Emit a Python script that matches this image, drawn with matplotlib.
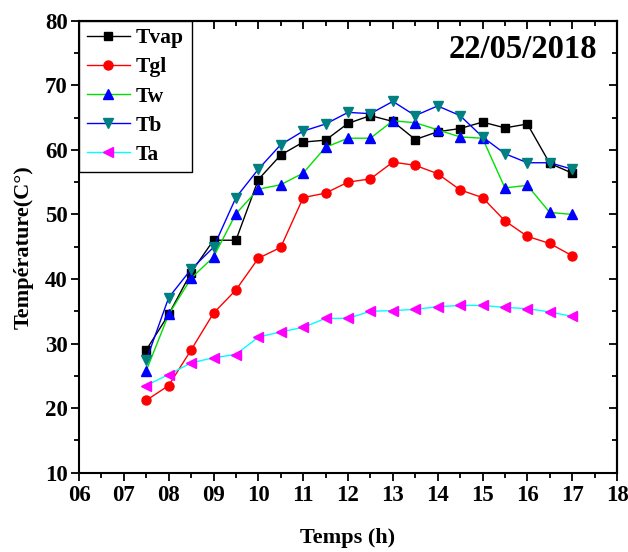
import matplotlib
matplotlib.use("Agg")
import matplotlib.pyplot as plt
from matplotlib.ticker import MultipleLocator, FuncFormatter

plt.rcParams['font.family'] = ['Liberation Serif', 'DejaVu Serif']
plt.rcParams['font.weight'] = 'bold'

# hours of measurement
hours = [7.5, 8, 8.5, 9, 9.5, 10, 10.5, 11, 11.5, 12, 12.5, 13, 13.5, 14, 14.5, 15, 15.5, 16, 16.5, 17]

# temperatures (C)
t_vap = [29.0, 34.5, 41.0, 46.0, 46.0, 55.4, 59.2, 61.2, 61.5, 64.1, 65.3, 64.4, 61.6, 62.8, 63.3, 64.3, 63.4, 64.0, 57.9, 56.4]
t_gl = [21.2, 23.5, 29.0, 34.7, 38.3, 43.2, 44.9, 52.6, 53.3, 55.0, 55.5, 58.1, 57.6, 56.3, 53.8, 52.6, 49.0, 46.6, 45.5, 43.6]
t_w = [25.8, 34.5, 40.1, 43.4, 50.1, 53.9, 54.6, 56.4, 60.4, 61.8, 61.8, 64.5, 64.2, 63.1, 62.0, 61.8, 54.1, 54.5, 50.3, 50.0]
t_b = [27.4, 37.1, 41.5, 44.9, 52.6, 57.0, 60.8, 62.9, 64.0, 65.8, 65.6, 67.5, 65.3, 66.8, 65.3, 62.0, 59.4, 58.0, 58.0, 57.0]
t_a = [23.5, 25.2, 27.0, 27.8, 28.3, 31.0, 31.8, 32.5, 33.9, 33.9, 35.0, 35.1, 35.3, 35.7, 35.9, 35.9, 35.6, 35.4, 34.9, 34.2]

series = [
    ("Tvap", t_vap, "black", "s", "black", 6),
    ("Tgl", t_gl, "#ff0000", "o", "#ff0000", 6.5),
    ("Tw", t_w, "#00e000", "^", "#0000ff", 7),
    ("Tb", t_b, "#0000ff", "v", "#008080", 7),
    ("Ta", t_a, "#00ffff", "<", "#ff00ff", 7),
]

fig = plt.figure(figsize=(6.28, 5.52), dpi=100)
ax = fig.add_axes([0.1258, 0.1437, 0.8567, 0.8188])

for name, vals, lc, mk, mc, ms in series:
    ax.plot(hours, vals, color=lc, linewidth=1.0, marker=mk, markersize=ms,
            markerfacecolor=mc, markeredgecolor=mc, label=name)

ax.set_xlim(6, 18)
ax.set_ylim(10, 80)
ax.xaxis.set_major_locator(MultipleLocator(1))
ax.xaxis.set_minor_locator(MultipleLocator(0.5))
ax.yaxis.set_major_locator(MultipleLocator(10))
ax.yaxis.set_minor_locator(MultipleLocator(5))
ax.xaxis.set_major_formatter(FuncFormatter(lambda v, p: "%02d" % int(round(v))))

for sp in ax.spines.values():
    sp.set_linewidth(1.5)

ax.tick_params(which='both', direction='out', top=False, right=False, width=1.3, labelsize=16.5)
ax.tick_params(which='major', length=6)
ax.tick_params(which='minor', length=3.5)
ax.tick_params(axis='x', pad=3)
ax.tick_params(axis='y', pad=2)
# inward ticks on top and right
sec_x = ax.secondary_xaxis('top')
sec_x.xaxis.set_major_locator(MultipleLocator(1))
sec_x.xaxis.set_minor_locator(MultipleLocator(0.5))
sec_x.tick_params(which='both', direction='in', labeltop=False, width=1.3)
sec_x.tick_params(which='major', length=6)
sec_x.tick_params(which='minor', length=3.5)
sec_y = ax.secondary_yaxis('right')
sec_y.yaxis.set_major_locator(MultipleLocator(10))
sec_y.yaxis.set_minor_locator(MultipleLocator(5))
sec_y.tick_params(which='both', direction='in', labelright=False, width=1.3)
sec_y.tick_params(which='major', length=6)
sec_y.tick_params(which='minor', length=3.5)
for sp in sec_x.spines.values():
    sp.set_linewidth(1.5)
for sp in sec_y.spines.values():
    sp.set_linewidth(1.5)

ax.set_xlabel("Temps (h)", fontsize=16, fontweight='bold', labelpad=16)
ax.set_ylabel("Température(C°)", fontsize=16, fontweight='bold', labelpad=8)

ax.text(0.963, 0.936, "22/05/2018", transform=ax.transAxes, ha='right', va='center',
        fontsize=23.5, fontweight='bold')

leg = ax.legend(loc='upper left', borderaxespad=0, fancybox=False, framealpha=1,
                edgecolor='black', fontsize=15.5, handlelength=2.0, handletextpad=0.3,
                labelspacing=0.42, borderpad=0.35)
leg.get_frame().set_linewidth(1.0)

fig.savefig("out.png", dpi=100)
